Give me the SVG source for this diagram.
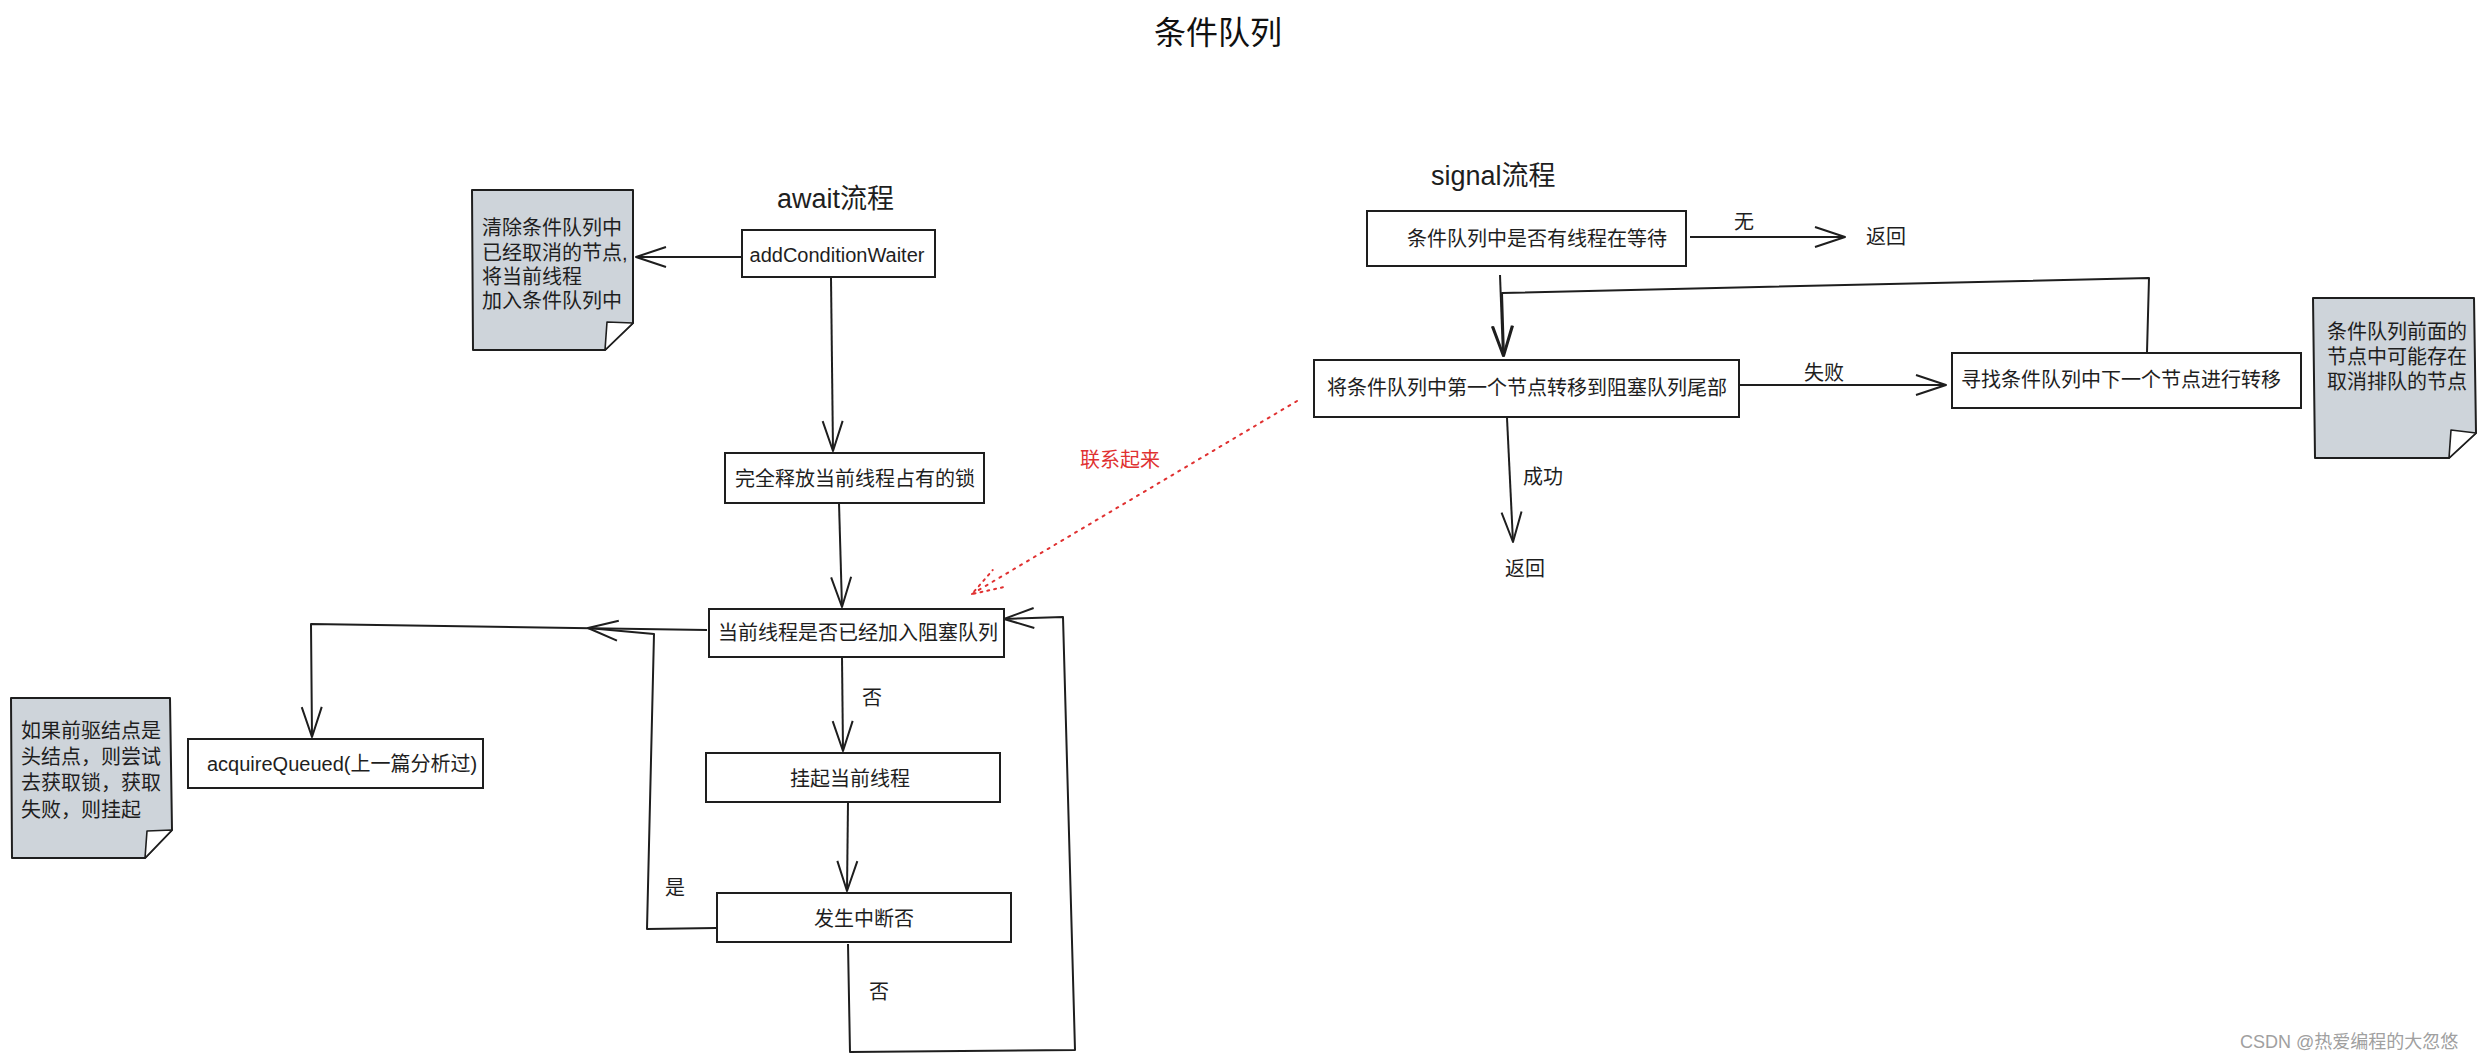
<svg xmlns="http://www.w3.org/2000/svg" width="2487" height="1062" viewBox="0 0 2487 1062">
<style>
  text { font-family: "Liberation Sans", "Noto Sans CJK SC", sans-serif; fill: #1e1e1e; dominant-baseline: central; }
  .t20 { font-size: 20px; }
  .head { font-size: 27px; }
  .title { font-size: 32px; font-weight: 400; fill: #111111; }
  .box { fill: #ffffff; stroke: #1e1e1e; stroke-width: 2; }
  .note { fill: #ced4da; stroke: #1e1e1e; stroke-width: 2; stroke-linejoin: round; }
  .flap { fill: #ffffff; stroke: #1e1e1e; stroke-width: 1.6; stroke-linejoin: round; }
  .conn { fill: none; stroke: #1e1e1e; stroke-width: 2; stroke-linejoin: round; }
  .red { fill: none; stroke: #e03131; stroke-width: 2; stroke-dasharray: 2 6; stroke-linecap: round; }
  .redtext { fill: #e03131; }
  .wm { font-size: 18px; fill: #a0a0a0; }
</style>
<defs>
  <marker id="arr" markerUnits="userSpaceOnUse" markerWidth="40" markerHeight="30" viewBox="-32 -15 36 30" refX="0" refY="0" orient="auto">
    <path d="M -30 -10 L 0 0 L -30 10" fill="none" stroke="#1e1e1e" stroke-width="2" stroke-linejoin="round"/>
  </marker>
  <marker id="arrRed" markerUnits="userSpaceOnUse" markerWidth="40" markerHeight="30" viewBox="-32 -15 36 30" refX="0" refY="0" orient="auto">
    <path d="M -30 -10 L 0 0 L -30 10" fill="none" stroke="#e03131" stroke-width="2" stroke-dasharray="2 5" stroke-linecap="round"/>
  </marker>
</defs>
<rect width="2487" height="1062" fill="#ffffff"/>

<text class="title" x="1218" y="33" text-anchor="middle">条件队列</text>
<text class="head" x="777" y="199">await流程</text>
<text class="head" x="1431" y="176">signal流程</text>

<g id="connectors">
  <path class="conn" d="M 742 257 L 636 257" marker-end="url(#arr)"/>
  <path class="conn" d="M 831 278 L 833 451" marker-end="url(#arr)"/>
  <path class="conn" d="M 839 503 L 842 607" marker-end="url(#arr)"/>
  <path class="conn" d="M 707 630 L 311 624 L 312 737" marker-end="url(#arr)"/>
  <path class="conn" d="M 842 657 L 843 751" marker-end="url(#arr)"/>
  <path class="conn" d="M 848 802 L 847 891" marker-end="url(#arr)"/>
  <path class="conn" d="M 716 928 L 647 929 L 654 634 L 588 628" marker-end="url(#arr)"/>
  <path class="conn" d="M 848 944 L 850 1052 L 1075 1050 L 1063 617 L 1004 619" marker-end="url(#arr)"/>
  <path class="conn" d="M 1690 237 L 1845 237" marker-end="url(#arr)"/>
  <path class="conn" d="M 1500 275 L 1503 356" marker-end="url(#arr)"/>
  <path class="conn" d="M 2147 352 L 2149 278 L 1502 293 L 1504 356" marker-end="url(#arr)"/>
  <path class="conn" d="M 1739 385 L 1946 385" marker-end="url(#arr)"/>
  <path class="conn" d="M 1507 418 L 1513 542" marker-end="url(#arr)"/>
  <path class="red" d="M 1297 401 L 972 594" marker-end="url(#arrRed)"/>
</g>

<g id="note-clear">
  <path class="note" d="M 472 190 L 633 190 L 633 323 L 605 350 L 473 350 Z"/>
  <path class="flap" d="M 633 323 L 607 322 L 605 350 Z"/>
  <text class="t20" x="482" y="228">清除条件队列中</text>
  <text class="t20" x="482" y="253">已经取消的节点,</text>
  <text class="t20" x="482" y="277">将当前线程</text>
  <text class="t20" x="482" y="301">加入条件队列中</text>
</g>

<g id="node-addConditionWaiter">
  <rect class="box" x="742" y="230" width="193" height="47"/>
  <text class="t20" x="837" y="255" text-anchor="middle">addConditionWaiter</text>
</g>

<g id="node-release">
  <rect class="box" x="725" y="453" width="259" height="50"/>
  <text class="t20" x="855" y="479" text-anchor="middle">完全释放当前线程占有的锁</text>
</g>

<g id="node-inQueue">
  <rect class="box" x="709" y="609" width="295" height="48"/>
  <text class="t20" x="858" y="633" text-anchor="middle">当前线程是否已经加入阻塞队列</text>
</g>

<g id="node-park">
  <rect class="box" x="706" y="753" width="294" height="49"/>
  <text class="t20" x="850" y="779" text-anchor="middle">挂起当前线程</text>
</g>

<g id="node-interrupt">
  <rect class="box" x="717" y="893" width="294" height="49"/>
  <text class="t20" x="864" y="919" text-anchor="middle">发生中断否</text>
</g>

<g id="node-acquireQueued">
  <rect class="box" x="188" y="739" width="295" height="49"/>
  <text class="t20" x="207" y="764">acquireQueued(上一篇分析过)</text>
</g>

<g id="note-acquire">
  <path class="note" d="M 11 698 L 170 698 L 172 830 L 145 858 L 12 858 Z"/>
  <path class="flap" d="M 172 830 L 147 831 L 145 858 Z"/>
  <text class="t20" x="21" y="731">如果前驱结点是</text>
  <text class="t20" x="21" y="757">头结点，则尝试</text>
  <text class="t20" x="21" y="783">去获取锁，获取</text>
  <text class="t20" x="21" y="810">失败，则挂起</text>
</g>

<g id="labels-await">
  <text class="t20" x="862" y="698">否</text>
  <text class="t20" x="869" y="992">否</text>
  <text class="t20" x="665" y="888">是</text>
  <text class="t20 redtext" x="1080" y="460">联系起来</text>
</g>

<g id="node-hasWaiter">
  <rect class="box" x="1367" y="211" width="319" height="55"/>
  <text class="t20" x="1537" y="239" text-anchor="middle">条件队列中是否有线程在等待</text>
</g>

<g id="node-return1">
  <text class="t20" x="1866" y="237">返回</text>
</g>

<g id="node-transfer">
  <rect class="box" x="1314" y="360" width="425" height="57"/>
  <text class="t20" x="1327" y="388">将条件队列中第一个节点转移到阻塞队列尾部</text>
</g>

<g id="node-findNext">
  <rect class="box" x="1952" y="353" width="349" height="55"/>
  <text class="t20" x="1961" y="380">寻找条件队列中下一个节点进行转移</text>
</g>

<g id="node-return2">
  <text class="t20" x="1505" y="569">返回</text>
</g>

<g id="note-cancel">
  <path class="note" d="M 2313 298 L 2474 298 L 2476 433 L 2449 458 L 2315 458 Z"/>
  <path class="flap" d="M 2476 433 L 2451 430 L 2449 458 Z"/>
  <text class="t20" x="2327" y="332">条件队列前面的</text>
  <text class="t20" x="2327" y="357">节点中可能存在</text>
  <text class="t20" x="2327" y="382">取消排队的节点</text>
</g>

<g id="labels-signal">
  <text class="t20" x="1744" y="222" text-anchor="middle">无</text>
  <text class="t20" x="1804" y="373">失败</text>
  <text class="t20" x="1523" y="477">成功</text>
</g>

<text class="wm" x="2240" y="1042">CSDN @热爱编程的大忽悠</text>
</svg>
